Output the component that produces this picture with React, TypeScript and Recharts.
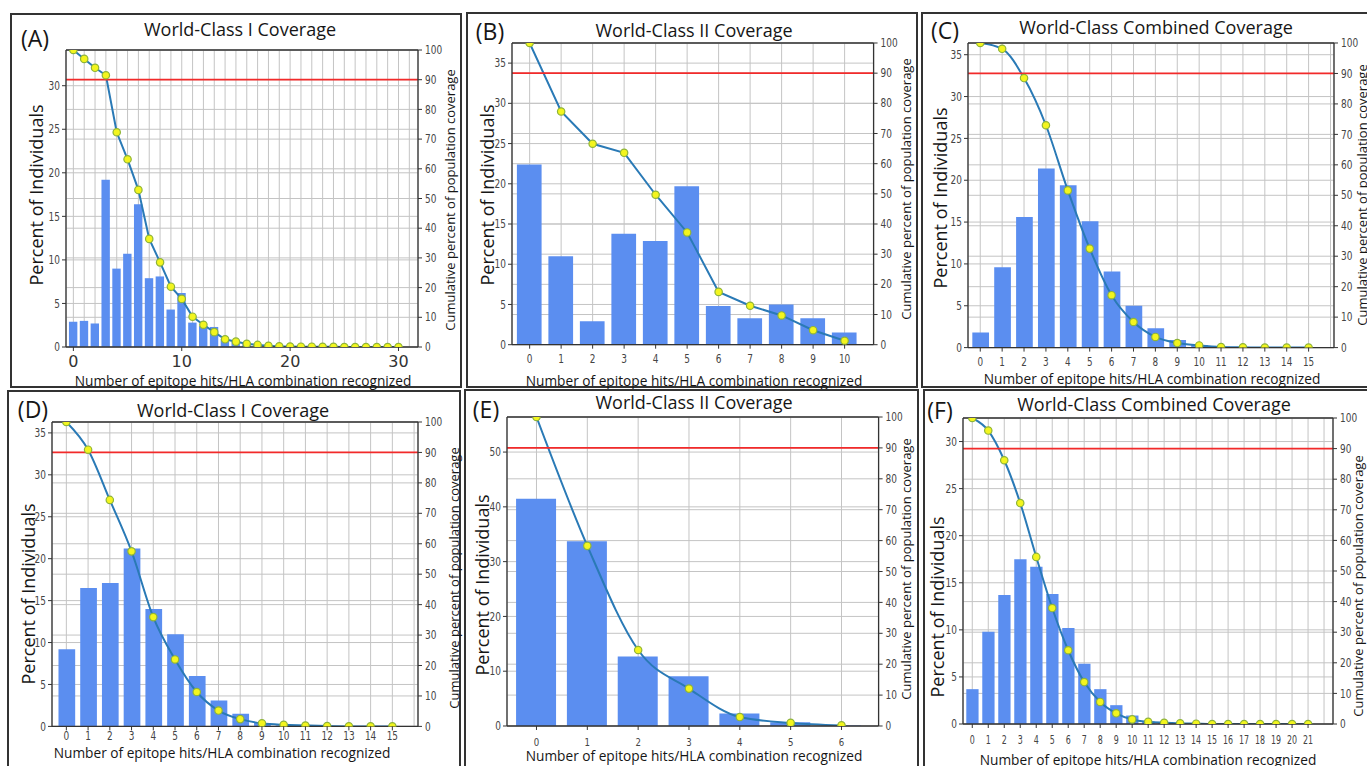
import React from 'react';
import { ComposedChart, Bar, Line, XAxis, YAxis, CartesianGrid, ReferenceLine } from 'recharts';

// ---------------- data ----------------
const TITLE_I = 'World-Class I Coverage';
const TITLE_II = 'World-Class II Coverage';
const TITLE_COMB = 'World-Class Combined Coverage';
const LEFT_LABEL = 'Percent of Individuals';
const RIGHT_LABEL = 'Cumulative percent of population coverage';
const X_LABEL = 'Number of epitope hits/HLA combination recognized';
const THRESHOLD = 90;
const RIGHT_TICKS = [0, 10, 20, 30, 40, 50, 60, 70, 80, 90, 100];

// (A) World-Class I
const A_HITS = [0, 1, 2, 3, 4, 5, 6, 7, 8, 9, 10, 11, 12, 13, 14, 15, 16, 17, 18, 19, 20, 21, 22, 23, 24, 25, 26, 27, 28, 29, 30];
const A_PERCENT = [2.9, 3.0, 2.7, 19.2, 9.0, 10.7, 16.4, 7.9, 8.1, 4.3, 6.2, 2.8, 2.4, 2.3, 0.9, 0.6, 0.4, 0.2, 0.1, 0.05, 0, 0, 0, 0, 0, 0, 0, 0, 0, 0, 0];
const A_CUMULATIVE = [100, 97.0, 94.0, 91.5, 72.3, 63.2, 52.9, 36.4, 28.5, 20.3, 16.2, 10.2, 7.5, 5.0, 2.6, 1.8, 1.1, 0.7, 0.4, 0.2, 0.15, 0.1, 0.1, 0.05, 0.05, 0, 0, 0, 0, 0, 0];
const A_GRID_X = [0, 1, 2, 3, 4, 5, 6, 7, 8, 9, 10, 11, 12, 13, 14, 15, 16, 17, 18, 19, 20, 21, 22, 23, 24, 25, 26, 27, 28, 29, 30, 31];
const A_X_LABELS = [0, 10, 20, 30];
const A_LEFT_TICKS = [0, 5, 10, 15, 20, 25, 30];

// (B) World-Class II
const B_HITS = [0, 1, 2, 3, 4, 5, 6, 7, 8, 9, 10];
const B_PERCENT = [22.4, 11.0, 2.9, 13.8, 12.9, 19.7, 4.8, 3.3, 5.0, 3.3, 1.5];
const B_CUMULATIVE = [100, 77.3, 66.6, 63.6, 49.7, 37.2, 17.5, 12.9, 9.7, 4.8, 1.3];
const B_GRID_X = [0, 1, 2, 3, 4, 5, 6, 7, 8, 9, 10];
const B_X_LABELS = [0, 1, 2, 3, 4, 5, 6, 7, 8, 9, 10];
const B_LEFT_TICKS = [0, 5, 10, 15, 20, 25, 30, 35];

// (C) World-Class Combined
const C_HITS = [0, 1, 2, 3, 4, 5, 6, 7, 8, 9, 10, 11, 12, 13, 14, 15];
const C_PERCENT = [1.8, 9.6, 15.6, 21.4, 19.4, 15.1, 9.1, 5.0, 2.3, 0.9, 0.3, 0.1, 0, 0, 0, 0];
const C_CUMULATIVE = [100, 98.1, 88.5, 73.0, 51.6, 32.5, 17.2, 8.4, 3.5, 1.5, 0.7, 0.2, 0.1, 0, 0, 0];
const C_GRID_X = [0, 1, 2, 3, 4, 5, 6, 7, 8, 9, 10, 11, 12, 13, 14, 15, 16];
const C_X_LABELS = [0, 1, 2, 3, 4, 5, 6, 7, 8, 9, 10, 11, 12, 13, 14, 15];
const C_LEFT_TICKS = [0, 5, 10, 15, 20, 25, 30, 35];

// (D) World-Class I
const D_HITS = [0, 1, 2, 3, 4, 5, 6, 7, 8, 9, 10, 11, 12, 13, 14, 15];
const D_PERCENT = [9.2, 16.5, 17.1, 21.2, 14.0, 11.0, 6.0, 3.1, 1.5, 0.4, 0.1, 0, 0, 0, 0, 0];
const D_CUMULATIVE = [100, 90.9, 74.4, 57.5, 35.9, 22.0, 11.3, 5.2, 2.4, 1.0, 0.5, 0.3, 0.1, 0, 0, 0];
const D_GRID_X = [0, 1, 2, 3, 4, 5, 6, 7, 8, 9, 10, 11, 12, 13, 14, 15, 16];
const D_X_LABELS = [0, 1, 2, 3, 4, 5, 6, 7, 8, 9, 10, 11, 12, 13, 14, 15];
const D_LEFT_TICKS = [0, 5, 10, 15, 20, 25, 30, 35];

// (E) World-Class II
const E_HITS = [0, 1, 2, 3, 4, 5, 6];
const E_PERCENT = [41.5, 33.7, 12.7, 9.1, 2.3, 0.7, 0.1];
const E_CUMULATIVE = [100, 58.3, 24.6, 12.1, 2.9, 1.0, 0.2];
const E_GRID_X = [0, 1, 2, 3, 4, 5, 6];
const E_X_LABELS = [0, 1, 2, 3, 4, 5, 6];
const E_LEFT_TICKS = [0, 10, 20, 30, 40, 50];

// (F) World-Class Combined
const F_HITS = [0, 1, 2, 3, 4, 5, 6, 7, 8, 9, 10, 11, 12, 13, 14, 15, 16, 17, 18, 19, 20, 21];
const F_PERCENT = [3.7, 9.8, 13.7, 17.5, 16.7, 13.8, 10.2, 6.4, 3.7, 2.0, 0.9, 0.3, 0.1, 0, 0, 0, 0, 0, 0, 0, 0, 0];
const F_CUMULATIVE = [100, 95.9, 86.2, 72.2, 54.6, 37.9, 24.1, 13.7, 7.2, 3.5, 1.5, 0.7, 0.4, 0.2, 0.1, 0, 0, 0, 0, 0, 0, 0];
const F_GRID_X = [0, 1, 2, 3, 4, 5, 6, 7, 8, 9, 10, 11, 12, 13, 14, 15, 16, 17, 18, 19, 20, 21, 22];
const F_X_LABELS = [0, 1, 2, 3, 4, 5, 6, 7, 8, 9, 10, 11, 12, 13, 14, 15, 16, 17, 18, 19, 20, 21];
const F_LEFT_TICKS = [0, 5, 10, 15, 20, 25, 30];

// ---------------- styles ----------------
const AXIS = '#333333';
const GRID = '#c4c4c4';
const BAR = '#5b8ef0';
const LINE = '#2a7ab6';
const RED = '#f22a2a';
const TICK_FONT = 'DejaVu Sans, Verdana, sans-serif';
const LABEL_FONT = '"Open Sans", "Noto Sans", Lato, sans-serif';

type Pt = [number, number];
type PanelCfg = {
  tag: string; title: string;
  hits: number[]; pct: number[]; cum: number[];
  gridX: number[]; xLabels: number[]; leftTicks: number[];
  leftMax: number; xMin: number; xMax: number;
  plot: { l: number; t: number; r: number; b: number };
  barSize: number; curve: 'linear' | 'monotone';
  xt: { size: number; top: number; sx: number; color: string };
  box: { x: number; y: number; w: number; h: number };
  text: { title: Pt; tag: Pt; left: Pt; right: Pt; x: Pt };
};

const PANELS: PanelCfg[] = [
  {
    tag: '(A)', title: TITLE_I, hits: A_HITS, pct: A_PERCENT, cum: A_CUMULATIVE,
    gridX: A_GRID_X, xLabels: A_X_LABELS, leftTicks: A_LEFT_TICKS,
    leftMax: 34.1, xMin: -0.68, xMax: 31.8,
    plot: { l: 66, t: 50, r: 418, b: 347 }, barSize: 8.4, curve: 'linear',
    xt: { size: 16, top: 8, sx: 1, color: '#333' },
    box: { x: 10, y: 13, w: 452, h: 375 },
    text: { title: [240, 29], tag: [35, 38], left: [36, 195], right: [450, 200], x: [243, 380] },
  },
  {
    tag: '(B)', title: TITLE_II, hits: B_HITS, pct: B_PERCENT, cum: B_CUMULATIVE,
    gridX: B_GRID_X, xLabels: B_X_LABELS, leftTicks: B_LEFT_TICKS,
    leftMax: 37.5, xMin: -0.56, xMax: 10.92,
    plot: { l: 511.7, t: 43.3, r: 873.3, b: 345 }, barSize: 24.7, curve: 'linear',
    xt: { size: 11.5, top: 10, sx: 0.78, color: '#444' },
    box: { x: 466, y: 12, w: 452, h: 376 },
    text: { title: [694, 29.5], tag: [490, 31], left: [487, 195], right: [906, 189], x: [694, 380] },
  },
  {
    tag: '(C)', title: TITLE_COMB, hits: C_HITS, pct: C_PERCENT, cum: C_CUMULATIVE,
    gridX: C_GRID_X, xLabels: C_X_LABELS, leftTicks: C_LEFT_TICKS,
    leftMax: 36.4, xMin: -0.56, xMax: 16.16,
    plot: { l: 968.3, t: 42.7, r: 1334.3, b: 347.3 }, barSize: 16.7, curve: 'monotone',
    xt: { size: 13, top: 9.4, sx: 0.68, color: '#444' },
    box: { x: 921, y: 12, w: 460, h: 376 },
    text: { title: [1156, 27], tag: [945, 30], left: [940, 198], right: [1362, 195], x: [1152, 378] },
  },
  {
    tag: '(D)', title: TITLE_I, hits: D_HITS, pct: D_PERCENT, cum: D_CUMULATIVE,
    gridX: D_GRID_X, xLabels: D_X_LABELS, leftTicks: D_LEFT_TICKS,
    leftMax: 36.3, xMin: -0.66, xMax: 16.18,
    plot: { l: 52.3, t: 422.3, r: 418.3, b: 726.7 }, barSize: 16.7, curve: 'monotone',
    xt: { size: 11.5, top: 5, sx: 0.78, color: '#444' },
    box: { x: 7, y: 390, w: 454, h: 390 },
    text: { title: [233, 410], tag: [33, 409], left: [28, 594], right: [454, 578], x: [222, 752] },
  },
  {
    tag: '(E)', title: TITLE_II, hits: E_HITS, pct: E_PERCENT, cum: E_CUMULATIVE,
    gridX: E_GRID_X, xLabels: E_X_LABELS, leftTicks: E_LEFT_TICKS,
    leftMax: 56.4, xMin: -0.58, xMax: 6.73,
    plot: { l: 506.7, t: 416.7, r: 878.3, b: 725.7 }, barSize: 40, curve: 'monotone',
    xt: { size: 11, top: 11.5, sx: 0.78, color: '#444' },
    box: { x: 464, y: 389, w: 455, h: 390 },
    text: { title: [694, 402], tag: [486, 409], left: [482, 585], right: [906, 569], x: [694, 755] },
  },
  {
    tag: '(F)', title: TITLE_COMB, hits: F_HITS, pct: F_PERCENT, cum: F_CUMULATIVE,
    gridX: F_GRID_X, xLabels: F_X_LABELS, leftTicks: F_LEFT_TICKS,
    leftMax: 32.5, xMin: -0.58, xMax: 22.56,
    plot: { l: 962.7, t: 418.3, r: 1332.7, b: 724.3 }, barSize: 12.3, curve: 'monotone',
    xt: { size: 12.8, top: 10.7, sx: 0.62, color: '#444' },
    box: { x: 923, y: 389, w: 460, h: 390 },
    text: { title: [1154, 404], tag: [940, 410], left: [937, 607], right: [1358, 586], x: [1148, 759] },
  },
];

function Txt({ at, size, children, rotate }: { at: Pt; size: number; children: React.ReactNode; rotate?: boolean }) {
  return (
    <div
      style={{
        position: 'absolute', left: at[0], top: at[1],
        transform: `translate(-50%, -50%)${rotate ? ' rotate(-90deg)' : ''}`,
        fontFamily: LABEL_FONT, fontSize: size, color: '#161616', whiteSpace: 'nowrap', lineHeight: 'normal',
      }}
    >
      {children}
    </div>
  );
}

function Panel({ p }: { p: PanelCfg }) {
  const W = p.plot.r - p.plot.l + 120;
  const H = p.plot.b - p.plot.t + 50;
  const pb = H - 40;
  const rows = p.hits.map((h, i) => ({ hits: h, percent: p.pct[i], cumulative: p.cum[i] }));
  const baseline = pb + p.xt.top + p.xt.size * 0.729;

  const xTick = (props: any) => {
    const { x, payload } = props;
    const v = payload.value;
    if (!p.xLabels.includes(v)) return <g />;
    return (
      <g>
        <line x1={x} x2={x} y1={pb} y2={pb + 4} stroke={AXIS} strokeWidth={1} />
        <text
          transform={`translate(${x},${baseline}) scale(${p.xt.sx},1)`}
          textAnchor="middle" fontSize={p.xt.size} fill={p.xt.color} fontFamily={TICK_FONT}
        >
          {v}
        </text>
      </g>
    );
  };
  const yTick = (anchor: 'start' | 'end') => (props: any) => {
    const { x, y, payload } = props;
    return (
      <text transform={`translate(${x},${y}) scale(0.78,1)`} textAnchor={anchor} dy="0.36em" fontSize={11.5} fill="#444" fontFamily={TICK_FONT}>
        {payload.value}
      </text>
    );
  };

  return (
    <>
      <div
        style={{
          position: 'absolute', left: p.box.x, top: p.box.y, width: p.box.w, height: p.box.h,
          border: '2px solid #333', boxSizing: 'border-box',
        }}
      />
      <div style={{ position: 'absolute', left: p.plot.l - 60, top: p.plot.t - 10 }}>
        <ComposedChart width={W} height={H} data={rows} margin={{ top: 10, right: 0, bottom: 0, left: 0 }}>
          <CartesianGrid yAxisId="left" stroke={GRID} strokeWidth={1} />
          <CartesianGrid yAxisId="right" stroke={GRID} strokeWidth={1} vertical={false} />
          <XAxis
            dataKey="hits" type="number" domain={[p.xMin, p.xMax]} allowDataOverflow
            ticks={p.gridX} interval={0} height={40} tick={xTick} tickLine={false}
            axisLine={{ stroke: AXIS, strokeWidth: 1.3 }}
          />
          <YAxis
            yAxisId="left" orientation="left" width={60} type="number" domain={[0, p.leftMax]} allowDataOverflow
            ticks={p.leftTicks} interval={0} tick={yTick('end')} tickSize={4} tickMargin={2}
            tickLine={{ stroke: AXIS }} axisLine={{ stroke: AXIS, strokeWidth: 1.3 }}
          />
          <YAxis
            yAxisId="right" orientation="right" width={60} type="number" domain={[0, 100]} allowDataOverflow
            ticks={RIGHT_TICKS} interval={0} tick={yTick('start')} tickSize={4} tickMargin={3}
            tickLine={{ stroke: AXIS }} axisLine={{ stroke: AXIS, strokeWidth: 1.3 }}
          />
          <Bar yAxisId="left" dataKey="percent" fill={BAR} barSize={p.barSize} isAnimationActive={false} />
          <Line
            yAxisId="right" dataKey="cumulative" type={p.curve} stroke={LINE} strokeWidth={2}
            dot={{ r: 3.7, fill: '#f3f51e', stroke: '#8fb43a', strokeWidth: 1.2 }}
            activeDot={false} isAnimationActive={false}
          />
          <ReferenceLine yAxisId="right" y={THRESHOLD} stroke={RED} strokeWidth={1.7} />
          <ReferenceLine yAxisId="right" y={100} stroke={AXIS} strokeWidth={1.3} />
        </ComposedChart>
      </div>
      <Txt at={p.text.title} size={18}>{p.title}</Txt>
      <Txt at={p.text.tag} size={23}>{p.tag}</Txt>
      <Txt at={p.text.left} size={18} rotate>{LEFT_LABEL}</Txt>
      <Txt at={p.text.right} size={13} rotate>{RIGHT_LABEL}</Txt>
      <Txt at={p.text.x} size={13.7}>{X_LABEL}</Txt>
    </>
  );
}

export default function App() {
  return (
    <div
      style={{
        position: 'absolute', left: 0, top: 0, width: 1367, height: 766,
        background: '#ffffff', overflow: 'hidden',
      }}
    >
      {PANELS.map((p) => (
        <Panel key={p.tag} p={p} />
      ))}
    </div>
  );
}
